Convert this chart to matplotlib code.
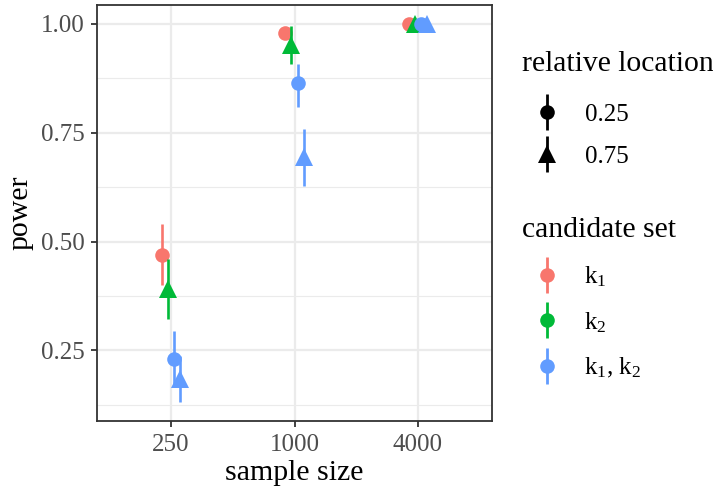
import matplotlib
matplotlib.use("Agg")
import matplotlib.pyplot as plt
from matplotlib.lines import Line2D
from matplotlib.legend_handler import HandlerTuple
import numpy as np

plt.rcParams['font.family'] = ['Liberation Serif', 'DejaVu Serif']
plt.rcParams['mathtext.default'] = 'regular'

# ---- data ----
sample_sizes = ["250", "1000", "4000"]
group_names = ["k1 @ 0.25", "k2 @ 0.75", "k1,k2 @ 0.25", "k1,k2 @ 0.75"]
group_color = ["k1", "k2", "k1k2", "k1k2"]
group_loc = ["0.25", "0.75", "0.25", "0.75"]
power = [
    [0.470, 0.980, 1.000],   # k1, 0.25
    [0.391, 0.952, 1.000],   # k2, 0.75
    [0.231, 0.865, 1.000],   # k1,k2, 0.25
    [0.184, 0.695, 1.000],   # k1,k2, 0.75
]
lower = [
    [0.400, 0.965, 1.000],
    [0.323, 0.909, 1.000],
    [0.167, 0.810, 1.000],
    [0.131, 0.627, 1.000],
]
upper = [
    [0.541, 0.994, 1.000],
    [0.460, 0.995, 1.000],
    [0.295, 0.908, 1.000],
    [0.237, 0.758, 1.000],
]
set_labels = ["k$_1$", "k$_2$", "k$_1$, k$_2$"]
loc_labels = ["0.25", "0.75"]

colors = {"k1": "#F8766D", "k2": "#00BA38", "k1k2": "#619CFF"}
markers = {"0.25": "o", "0.75": "^"}
msize = {"0.25": 10.5, "0.75": 12.5}

W, H = 713, 486
fig = plt.figure(figsize=(W / 100, H / 100), dpi=100)
ax = fig.add_axes([97 / W, (H - 421) / H, 395 / W, 416 / H])

xpos = np.arange(len(sample_sizes))
dodge_w = 0.2
n = len(group_names)
for i in range(n):
    off = (i - (n - 1) / 2) * dodge_w / n
    xs = xpos + off
    p = np.array(power[i]); lo = np.array(lower[i]); hi = np.array(upper[i])
    c = colors[group_color[i]]
    ax.vlines(xs, lo, hi, color=c, lw=1.9, zorder=3 + 2 * i)
    ax.plot(xs, p, linestyle='none', marker=markers[group_loc[i]],
            ms=msize[group_loc[i]], color=c, mec=c, mew=0, zorder=4 + 2 * i)

allv = np.concatenate([np.ravel(lower), np.ravel(upper)])
rng = allv.max() - allv.min()
ax.set_ylim(allv.min() - 0.05 * rng, allv.max() + 0.05 * rng)
ax.set_xlim(-0.6, len(sample_sizes) - 0.4)

ax.set_xticks(xpos)
ax.set_xticklabels(sample_sizes)
ax.set_yticks([0.25, 0.5, 0.75, 1.0])
ax.set_yticklabels(["0.25", "0.50", "0.75", "1.00"])
ax.set_yticks([0.125, 0.375, 0.625, 0.875], minor=True)

ax.grid(True, which='major', color='#EBEBEB', lw=1.6, zorder=0)
ax.grid(True, which='minor', axis='y', color='#EBEBEB', lw=0.8, zorder=0)
ax.set_axisbelow(True)
for s in ax.spines.values():
    s.set_color('#333333'); s.set_linewidth(1.3)
ax.tick_params(axis='both', which='major', length=4, width=1.3, color='#333333',
               labelsize=18, labelcolor='#4D4D4D', pad=5)
ax.tick_params(axis='both', which='minor', length=0)

ax.set_xlabel("sample size", fontsize=21.5, labelpad=3)
ax.set_ylabel("power", fontsize=21.5, labelpad=5)

# ---- legends ----
bar_handle = lambda c: Line2D([], [], linestyle='none', marker='|', ms=26, mew=2.0, color=c)
loc_handles = [(bar_handle('black'), Line2D([], [], linestyle='none', marker=markers[l],
                ms=msize[l], color='black', mew=0)) for l in loc_labels]
set_handles = [(bar_handle(colors[k]), Line2D([], [], linestyle='none', marker='o',
                ms=msize["0.25"], color=colors[k], mew=0)) for k in ["k1", "k2", "k1k2"]]

common = dict(frameon=False, fontsize=18, title_fontsize=21.3,
              handler_map={tuple: HandlerTuple(ndivide=1, pad=0)},
              handlelength=2.0, handletextpad=0.5, borderpad=0, borderaxespad=0,
              alignment='left', loc='upper left')
leg1 = fig.legend(loc_handles, loc_labels, title="relative location", labelspacing=0.8,
                  bbox_to_anchor=(522 / W, 1 - 51 / H), **common)
leg1._legend_box.sep = leg1._legend_box.sep + 4.5
leg2 = fig.legend(set_handles, set_labels, title="candidate set", labelspacing=0.85,
                  bbox_to_anchor=(522 / W, 1 - 217 / H), **common)

fig.savefig("out.png", dpi=100)
